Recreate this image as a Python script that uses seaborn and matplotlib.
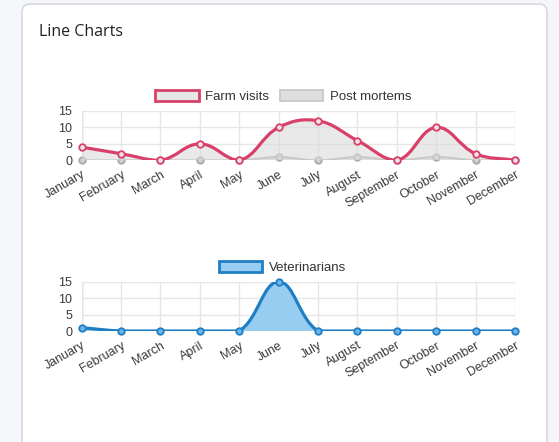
import numpy as np
import pandas as pd
import seaborn as sns
import matplotlib.pyplot as plt
from matplotlib.path import Path
from matplotlib.patches import PathPatch, Patch, FancyBboxPatch

months = ['January', 'February', 'March', 'April', 'May', 'June', 'July',
          'August', 'September', 'October', 'November', 'December']
farm_visits = [4, 2, 0, 5, 0, 10, 12, 6, 0, 10, 2, 0]
post_mortems = [0, 0, 0, 0, 0, 1, 0, 1, 0, 1, 0, 0]
veterinarians = [1, 0, 0, 0, 0, 15, 0, 0, 0, 0, 0, 0]
y_ticks = [0, 5, 10, 15]

sns.set_style("white")
plt.rcParams['font.family'] = ['Liberation Sans', 'DejaVu Sans']

W, H = 559, 442
fig = plt.figure(figsize=(W / 100, H / 100), dpi=100)
fig.patch.set_facecolor('#f4f6fa')

# card background
bg = fig.add_axes([0, 0, 1, 1])
bg.set_xlim(0, W)
bg.set_ylim(H, 0)
bg.axis('off')
bg.add_patch(FancyBboxPatch((22, 4), 525, 460, boxstyle="round,pad=0,rounding_size=8",
                            facecolor='white', edgecolor='#d6dae0', linewidth=1.2))
fig.text(39 / W, 1 - 36 / H, 'Line Charts', fontsize=11.5, color='#222222',
         family=['Open Sans', 'DejaVu Sans'], va='baseline')


def spline(ax, ys, tension=0.4):
    # chart.js style bezier curve through the points
    xs = np.arange(len(ys))
    pts = ax.transData.transform(np.column_stack([xs, ys]))
    n = len(pts)
    cps = []
    for i in range(n):
        prev, cur, nxt = pts[max(i - 1, 0)], pts[i], pts[min(i + 1, n - 1)]
        d01 = np.hypot(*(cur - prev))
        d12 = np.hypot(*(nxt - cur))
        tot = d01 + d12
        s01 = d01 / tot if tot else 0
        s12 = d12 / tot if tot else 0
        cps.append((cur - tension * s01 * (nxt - prev), cur + tension * s12 * (nxt - prev)))
    inv = ax.transData.inverted()
    verts = [pts[0]]
    codes = [Path.MOVETO]
    for i in range(1, n):
        verts += [cps[i - 1][1], cps[i][0], pts[i]]
        codes += [Path.CURVE4] * 3
    verts = inv.transform(np.array(verts))
    lo, hi = ax.get_ylim()
    verts[:, 1] = np.clip(verts[:, 1], lo, hi)
    verts[:, 0] = np.clip(verts[:, 0], 0, n - 1)
    return verts, codes


def draw_series(ax, ys, line, fill, lw, z, marker_fill):
    verts, codes = spline(ax, ys)
    n = len(ys)
    fverts = np.vstack([verts, [[n - 1, 0], [0, 0], [0, 0]]])
    fcodes = codes + [Path.LINETO, Path.LINETO, Path.CLOSEPOLY]
    ax.add_patch(PathPatch(Path(fverts, fcodes), facecolor=fill, edgecolor='none', zorder=z))
    ax.add_patch(PathPatch(Path(verts, codes), facecolor='none', edgecolor=line,
                           linewidth=lw, zorder=z + 0.5, capstyle='round'))
    df = pd.DataFrame({'month': np.arange(n), 'value': ys})
    sns.scatterplot(data=df, x='month', y='value', ax=ax, s=22, color=marker_fill,
                    edgecolor=line, linewidth=1.3, zorder=z + 0.6, clip_on=False)


def style_axes(ax):
    ax.set_xlim(0, len(months) - 1)
    ax.set_ylim(0, 15)
    ax.set_xticks(range(len(months)))
    ax.set_xticklabels(months, rotation=30, ha='right', rotation_mode='anchor')
    ax.set_yticks(y_ticks)
    ax.grid(True, color='#e6e6e6', linewidth=1)
    ax.set_axisbelow(True)
    for s in ax.spines.values():
        s.set_visible(False)
    ax.axhline(0, color='#c9c9c9', linewidth=1, zorder=0.5)
    ax.axvline(0, color='#c9c9c9', linewidth=1, zorder=0.5)
    ax.tick_params(axis='both', length=3.6, width=1, color='#e6e6e6',
                   labelsize=9, labelcolor='#3a3a3a')
    ax.tick_params(axis='x', pad=2.5)
    ax.tick_params(axis='y', pad=3.2)
    ax.set_xlabel('')
    ax.set_ylabel('')
    ax.set_facecolor('none')


left, width = 81.7 / W, (515 - 81.7) / W
ax1 = fig.add_axes([left, 1 - 160.3 / H, width, (160.3 - 110.9) / H])
ax2 = fig.add_axes([left, 1 - 331 / H, width, (331 - 281.7) / H])
for ax in (ax1, ax2):
    ax.set_xlim(0, len(months) - 1)
    ax.set_ylim(0, 15)

red = '#d8406a'
gray_line = '#a9a9a9'
blue = '#1f7fc4'
draw_series(ax1, post_mortems, gray_line, '#dedede', 1.3, 2, '#cfcfcf')
draw_series(ax1, farm_visits, red, (0.86, 0.86, 0.86, 0.6), 2.3, 3, '#f0e4e8')
draw_series(ax2, veterinarians, blue, '#98cdf2', 2.3, 3, '#6cb4ea')
style_axes(ax1)
style_axes(ax2)

leg_kw = dict(loc='center', bbox_transform=fig.transFigure, frameon=False, fontsize=9.5,
              handlelength=3.3, handleheight=0.85, handletextpad=0.5, columnspacing=0.8,
              labelcolor='#333333')
h1 = [Patch(facecolor='#e6e6e6', edgecolor=red, linewidth=2, label='Farm visits'),
      Patch(facecolor='#dedede', edgecolor='#c8c8c8', linewidth=1.3, label='Post mortems')]
ax1.legend(handles=h1, ncol=2, bbox_to_anchor=(283.4 / W, 1 - 96.5 / H), **leg_kw)
h2 = [Patch(facecolor='#98cdf2', edgecolor=blue, linewidth=2, label='Veterinarians')]
ax2.legend(handles=h2, ncol=1, bbox_to_anchor=(282.5 / W, 1 - 267.5 / H), **leg_kw)

fig.savefig('out.png', dpi=100)
